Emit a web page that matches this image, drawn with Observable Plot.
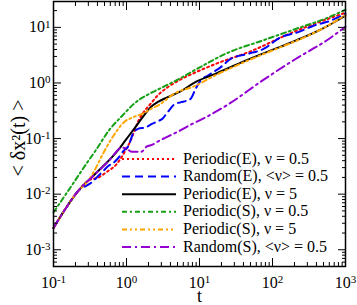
<!DOCTYPE html>
<html><head><meta charset="utf-8">
<script src="https://cdn.jsdelivr.net/npm/d3@7"></script>
<script src="https://cdn.jsdelivr.net/npm/@observablehq/plot@0.6"></script>
<style>
body{margin:0;background:#fff;}
#wrap{position:relative;width:357px;height:305px;font-family:"Liberation Serif","Times New Roman",Times,serif;}
#wrap svg, #wrap text{font-family:"Liberation Serif","Times New Roman",Times,serif !important;}
#legend{position:absolute;left:0;top:0;pointer-events:none;}
</style></head><body><div id="wrap"></div>
<script>
// ---- data ----
const tPE05 = [0.1, 0.146, 0.22, 0.30, 0.413, 0.567, 0.736, 0.828, 1.0, 1.135, 1.29, 1.46, 1.71, 2.13, 2.66, 3.64, 5.15, 8.81, 16.6, 52.7, 167, 1000];
const vPE05 = [0.00247, 0.00548, 0.0116, 0.0175, 0.0200, 0.0264, 0.0349, 0.0434, 0.0657, 0.0915, 0.139, 0.210, 0.297, 0.419, 0.592, 0.834, 1.10, 1.55, 2.20, 3.81, 7.60, 18.4];

const tRE05 = [0.1, 0.146, 0.22, 0.33, 0.388, 0.484, 0.567, 0.664, 0.777, 0.910, 1.065, 1.21, 1.46, 1.82, 2.27, 2.66, 3.11, 3.64, 4.69, 5.49, 7.53, 8.81, 10.3, 12.9, 19.4, 26.6, 45.5, 75.3, 129, 220, 365, 623, 1000];
const vRE05 = [0.00247, 0.00548, 0.0116, 0.0161, 0.0198, 0.0264, 0.0324, 0.0367, 0.0452, 0.0601, 0.0740, 0.117, 0.151, 0.159, 0.185, 0.204, 0.228, 0.296, 0.425, 0.448, 0.515, 0.780, 1.10, 1.35, 1.91, 2.70, 3.33, 4.09, 6.61, 8.13, 10.7, 13.2, 17.6];

const tPE5 = [0.1, 0.146, 0.22, 0.372, 0.629, 0.777, 0.96, 1.316, 1.80, 2.13, 2.74, 3.61, 5.49, 8.81, 15.5, 42.7, 129, 207, 455, 1000];
const vPE5 = [0.00247, 0.00548, 0.0116, 0.0231, 0.0458, 0.0631, 0.0916, 0.159, 0.277, 0.364, 0.461, 0.551, 0.706, 1.04, 1.41, 2.52, 4.50, 5.77, 9.10, 16.2];

const tPS05 = [0.1, 0.138, 0.211, 0.290, 0.376, 0.572, 0.873, 1.33, 2.02, 3.08, 5.20, 8.81, 25.2, 72.3, 207, 590, 1000];
const vPS05 = [0.00471, 0.00875, 0.0200, 0.0373, 0.0605, 0.139, 0.257, 0.446, 0.631, 0.830, 1.175, 1.73, 3.55, 5.77, 9.36, 15.2, 20.8];

const tPS5 = [0.1, 0.146, 0.22, 0.30, 0.376, 0.484, 0.664, 0.939, 1.247, 1.66, 2.13, 2.92, 4.40, 8.81, 15.5, 42.7, 129, 207, 455, 1000];
const vPS5 = [0.00247, 0.00548, 0.0116, 0.0175, 0.0288, 0.0557, 0.1127, 0.201, 0.243, 0.281, 0.338, 0.419, 0.630, 0.893, 1.32, 2.42, 4.40, 5.65, 9.10, 16.6];

const tRS05 = [0.1, 0.146, 0.22, 0.372, 0.629, 0.707, 0.854, 1.0, 1.171, 1.60, 1.88, 2.27, 2.66, 3.42, 5.15, 7.93, 12.1, 25.2, 72.3, 207, 590, 1000];
const vRS05 = [0.00247, 0.00548, 0.0116, 0.0231, 0.0458, 0.056, 0.0686, 0.0657, 0.0581, 0.0581, 0.0714, 0.0776, 0.0879, 0.1038, 0.1346, 0.183, 0.240, 0.419, 1.10, 2.70, 6.18, 10.3];

const seriesNames = ["Periodic(E), ν = 0.5", "Random(E), <ν> = 0.5", "Periodic(E), ν = 5", "Periodic(S), ν = 0.5", "Periodic(S), ν = 5", "Random(S), <ν> = 0.5"];
const xTicks = [0.1, 1, 10, 100, 1000];
const xTickLabels = ["10^-1", "10^0", "10^1", "10^2", "10^3"];
const yTicks = [0.001, 0.01, 0.1, 1, 10];
const yTickLabels = ["10^-3", "10^-2", "10^-1", "10^0", "10^1"];
const xLabel = "t";
const yLabel = "< δx²(t) >";

// ---- styles ----
const FONT = '"Liberation Serif","Times New Roman",Times,serif';
const colors = ["#ff0000", "#0000ff", "#000000", "#16a016", "#ffa500", "#9400d3"];
const dashes = ["2,3", "8,5", null, "5,3,2,3", "5,3,2,3,2,3", "9,4,2,4"];
const tArrs = [tPE05, tRE05, tPE5, tPS05, tPS5, tRS05];
const vArrs = [vPE05, vRE05, vPE5, vPS05, vPS5, vRS05];
const tables = tArrs.map((ts, i) => ts.map((t, j) => ({t, v: vArrs[i][j], s: seriesNames[i]})));

const xDomain = [0.1, 1000], yDomain = [5e-4, 29.2];
const minorOf = (lo, hi) => {
  const out = [];
  for (let e = -5; e <= 4; e++) for (let m = 2; m <= 9; m++) {
    const v = m * Math.pow(10, e);
    if (v > lo * 1.0001 && v < hi * 0.9999) out.push(v);
  }
  return out;
};
const xMinor = minorOf(...xDomain), yMinor = minorOf(...yDomain);
const blank = () => "";

const chart = Plot.plot({
  width: 357, height: 305,
  marginLeft: 53, marginRight: 12, marginTop: 1, marginBottom: 39,
  style: {fontFamily: FONT, fontSize: "16px", background: "white", color: "black"},
  x: {type: "log", domain: xDomain, label: null},
  y: {type: "log", domain: yDomain, label: null},
  marks: [
    ...tables.map((d, i) => Plot.line(d, {x: "t", y: "v", stroke: colors[i], strokeWidth: 2, strokeDasharray: dashes[i] ?? undefined, curve: "monotone-x"})),
    Plot.axisX({ticks: xTicks, tickSize: -8, tickFormat: blank, label: null}),
    Plot.axisX({ticks: xMinor, tickSize: -4, tickFormat: blank, label: null}),
    Plot.axisX({anchor: "top", ticks: xTicks, tickSize: -8, tickFormat: blank, label: null}),
    Plot.axisX({anchor: "top", ticks: xMinor, tickSize: -4, tickFormat: blank, label: null}),
    Plot.axisY({ticks: yTicks, tickSize: -8, tickFormat: blank, label: null}),
    Plot.axisY({ticks: yMinor, tickSize: -4, tickFormat: blank, label: null}),
    Plot.axisY({anchor: "right", ticks: yTicks, tickSize: -8, tickFormat: blank, label: null}),
    Plot.axisY({anchor: "right", ticks: yMinor, tickSize: -4, tickFormat: blank, label: null}),
    Plot.axisX({ticks: xTicks, tickSize: 0, tickPadding: 10, tickFormat: d => xTickLabels[xTicks.indexOf(d)], label: null, fontSize: 16}),
    Plot.axisY({ticks: yTicks, tickSize: 0, tickPadding: 3, tickFormat: d => yTickLabels[yTicks.indexOf(d)], label: null, fontSize: 16}),
    Plot.text([xLabel], {frameAnchor: "bottom", dy: 30, fontSize: 18, lineAnchor: "middle"}),
    Plot.text([yLabel], {frameAnchor: "left", textAnchor: "middle", rotate: -90, dx: -35, dy: 4, fontSize: 20}),
    Plot.frame({stroke: "black", strokeWidth: 1.5})
  ]
});
chart.setAttribute("font-family", FONT);

// superscripts in tick labels
d3.select(chart).selectAll("text").each(function() {
  const s = this.textContent;
  if (/^10\^/.test(s)) {
    const exp = s.slice(3);
    this.textContent = "10";
    d3.select(this).append("tspan").attr("dy", "-0.45em").attr("font-size", "11px").text(exp);
  }
});

const wrap = document.getElementById("wrap");
wrap.appendChild(chart);

// legend overlay
const rowY = [159, 176.6, 194.2, 211.8, 229.4, 247];
const lg = d3.select(wrap).append("svg").attr("id", "legend").attr("width", 357).attr("height", 305);
seriesNames.forEach((name, i) => {
  lg.append("line").attr("x1", 122).attr("x2", 176).attr("y1", rowY[i]).attr("y2", rowY[i])
    .attr("stroke", colors[i]).attr("stroke-width", 2).attr("stroke-dasharray", dashes[i]);
  lg.append("text").attr("x", 183).attr("y", rowY[i] + 4.5).attr("font-family", FONT)
    .attr("font-size", 16).attr("fill", "black").text(name);
});
</script></body></html>
